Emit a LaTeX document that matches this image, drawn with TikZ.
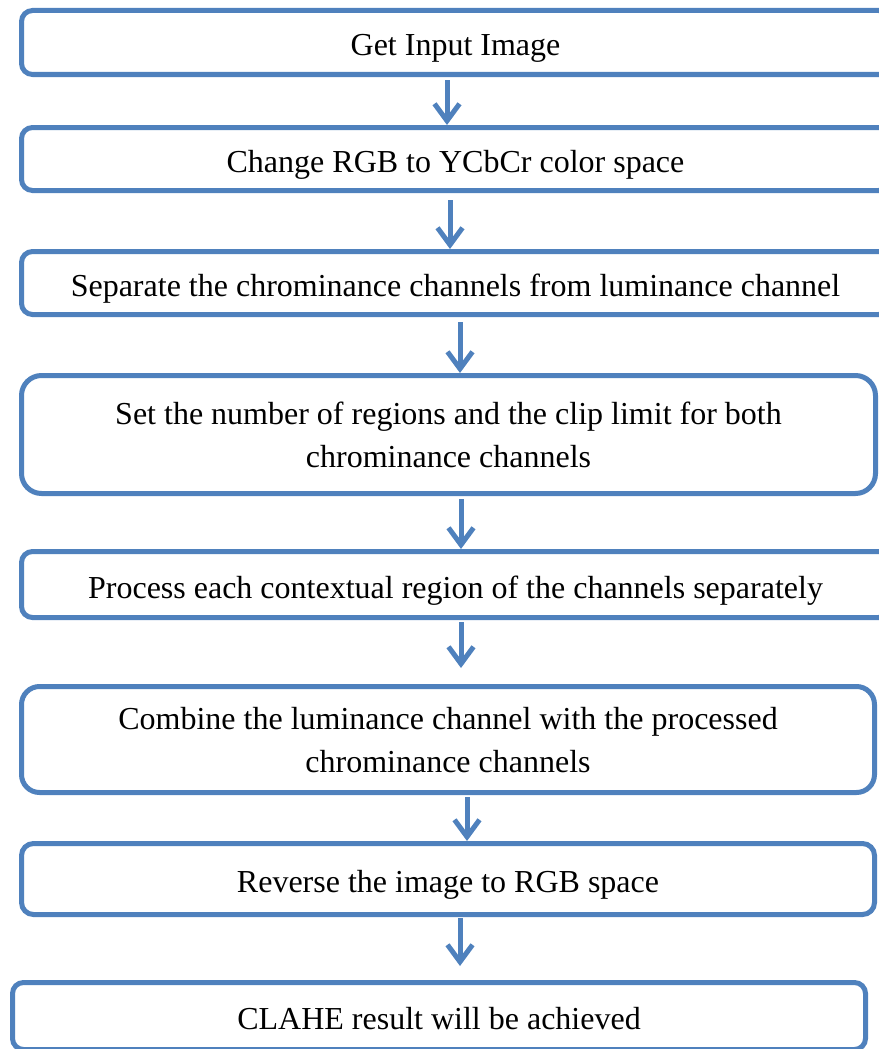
\documentclass[tikz,border=0pt]{standalone}
\usepackage{fontspec}
\setmainfont{Liberation Serif}
\usetikzlibrary{arrows.meta}
\definecolor{boxblue}{HTML}{4F81BD}

\begin{document}
\begin{tikzpicture}[x=1pt,y=-1pt,
  stepbox/.style={draw=boxblue, line width=5pt, fill=white, rounded corners=#1,
    inner sep=0pt, align=center, text height=27pt, text depth=0pt,
    font=\fontsize{32}{43}\selectfont},
  stepbox/.default=11pt,
  flow/.style={draw=boxblue, line width=5pt, -{Straight Barb[length=17pt,width=25pt]}}]

\useasboundingbox (0,0) rectangle (878,1049);

% Draw the boxes
\node[stepbox, minimum width=868pt, minimum height=64pt] (input) at (455.5,42.5) {Get Input Image};
\node[stepbox, minimum width=868pt, minimum height=63pt] (ycbcr) at (455.5,159) {Change RGB to YCbCr color space};
\node[stepbox, minimum width=868pt, minimum height=63pt] (separate) at (455.5,283) {Separate the chrominance channels from luminance channel};
\node[stepbox=20pt, text height={}, text depth={}, minimum width=854pt, minimum height=118pt] (limit) at (448.5,434.5) {Set the number of regions and the clip limit for both\\chrominance channels};
\node[stepbox, minimum width=868pt, minimum height=66pt] (process) at (455.5,584.5) {Process each contextual region of the channels separately};
\node[stepbox=18pt, text height={}, minimum width=853pt, minimum height=106pt] (combine) at (448,739.5) {Combine the luminance channel with the processed\\chrominance channels};
\node[stepbox=12pt, minimum width=853pt, minimum height=71pt] (reverse) at (448,879) {Reverse the image to RGB space};
\node[stepbox, minimum width=853pt, minimum height=67pt] (result) at (439,1016) {CLAHE result will be achieved};

% Draw the arrows
\draw[flow] ([xshift=-8.5pt,yshift=-3pt]input.south) -- ([xshift=-8.5pt]ycbcr.north);
\draw[flow] ([xshift=-5.5pt,yshift=-7pt]ycbcr.south) -- ([xshift=-5.5pt]separate.north);
\draw[flow] ([xshift=4.5pt,yshift=-5pt]separate.south) -- ([xshift=11.5pt]limit.north);
\draw[flow] ([xshift=12.5pt,yshift=-3pt]limit.south) -- ([xshift=5.5pt]process.north);
\draw[flow] ([xshift=5.5pt,yshift=-2pt]process.south) -- ([xshift=13pt,yshift=16pt]combine.north);
\draw[flow] ([xshift=19pt,yshift=-2pt]combine.south) -- ([xshift=19pt]reverse.north);
\draw[flow] ([xshift=12pt,yshift=-1pt]reverse.south) -- ([xshift=21pt,yshift=14pt]result.north);

\end{tikzpicture}
\end{document}
